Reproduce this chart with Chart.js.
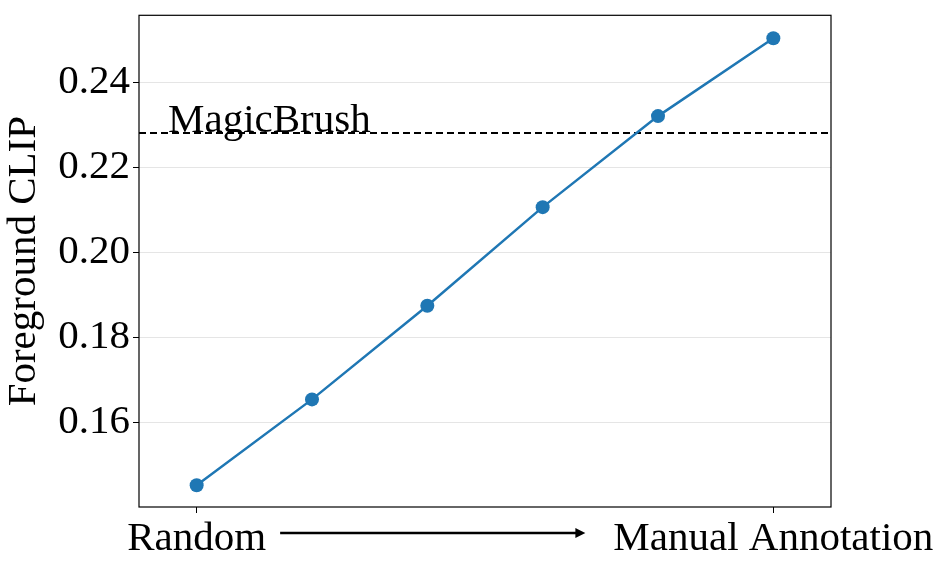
<!DOCTYPE html>
<html lang="en">
<head>
<meta charset="UTF-8">
<title>Foreground CLIP</title>
<style>
  body { margin: 0; background: #fff; }
  #wrap { width: 947px; height: 568px; }
</style>
</head>
<body>
<div id="wrap"><canvas id="myChart"></canvas></div>
<script src="https://cdn.jsdelivr.net/npm/chart.js"></script>
<script>
// data
const steps = [0, 1, 2, 3, 4, 5];
const clipScores = [0.1452, 0.1654, 0.1874, 0.2106, 0.2320, 0.2503];
const baselineName = 'MagicBrush';
const baselineScore = 0.2280;
const yTicks = [0.16, 0.18, 0.20, 0.22, 0.24];
const xTickLabels = { 0: 'Random', 5: 'Manual Annotation' };

const serif = "'Liberation Serif', 'Times New Roman', Times, serif";
const fontSize = 41;

// frame, baseline label and arrow between the x labels
const extras = {
  id: 'extras',
  afterDraw(chart) {
    const ctx = chart.ctx;
    const a = chart.chartArea;
    const xs = chart.scales.x, ys = chart.scales.y;
    ctx.save();
    ctx.strokeStyle = '#000';
    ctx.lineWidth = 1.2;
    ctx.strokeRect(a.left, a.top, a.right - a.left, a.bottom - a.top);

    ctx.font = fontSize + 'px ' + serif;
    ctx.fillStyle = '#000';
    ctx.textAlign = 'left';
    ctx.textBaseline = 'alphabetic';
    ctx.fillText(baselineName, a.left + 29, ys.getPixelForValue(baselineScore) - 1);

    const wL = ctx.measureText(xTickLabels[0]).width;
    const wR = ctx.measureText(xTickLabels[5]).width;
    const x0 = xs.getPixelForValue(0) + wL / 2 + 14;
    const x1 = xs.getPixelForValue(5) - wR / 2 - 28;
    const y = 533;
    ctx.lineWidth = 2.5;
    ctx.beginPath();
    ctx.moveTo(x0, y);
    ctx.lineTo(x1 - 8, y);
    ctx.stroke();
    ctx.beginPath();
    ctx.moveTo(x1, y);
    ctx.lineTo(x1 - 10, y - 5);
    ctx.lineTo(x1 - 10, y + 5);
    ctx.closePath();
    ctx.fill();
    ctx.restore();
  }
};

new Chart(document.getElementById('myChart'), {
  type: 'line',
  data: {
    datasets: [{
      label: 'ours',
      data: steps.map((s, i) => ({ x: s, y: clipScores[i] })),
      borderColor: '#1f77b4',
      backgroundColor: '#1f77b4',
      borderWidth: 2.5,
      pointRadius: 7,
      pointHoverRadius: 7,
      pointBorderWidth: 0
    }, {
      label: baselineName,
      data: [{ x: -0.5, y: baselineScore }, { x: 5.5, y: baselineScore }],
      borderColor: '#000',
      borderWidth: 2,
      borderDash: [7, 4],
      pointRadius: 0
    }]
  },
  options: {
    responsive: true,
    maintainAspectRatio: false,
    animation: false,
    layout: { padding: { top: 14, right: 116, left: 0, bottom: 0 } },
    plugins: { legend: { display: false }, tooltip: { enabled: false } },
    scales: {
      x: {
        type: 'linear',
        min: -0.5,
        max: 5.5,
        afterBuildTicks: (s) => { s.ticks = [{ value: 0 }, { value: 5 }]; },
        afterFit: (s) => { s.height = 61; },
        grid: { drawOnChartArea: false, color: 'rgba(0,0,0,0)', tickColor: '#000', tickLength: 6 },
        border: { display: false },
        ticks: {
          maxRotation: 0,
          autoSkip: false,
          padding: 2,
          color: '#000',
          font: { family: serif, size: fontSize },
          callback: (v) => xTickLabels[v] || ''
        }
      },
      y: {
        min: 0.1401,
        max: 0.2557,
        afterBuildTicks: (s) => { s.ticks = yTicks.map(v => ({ value: v })); },
        afterFit: (s) => { s.width = 139; },
        grid: { color: '#e5e5e5', tickColor: '#000', tickLength: 6 },
        border: { display: false },
        title: {
          display: true,
          text: 'Foreground CLIP',
          color: '#000',
          padding: 0,
          font: { family: serif, size: fontSize }
        },
        ticks: {
          padding: 3,
          color: '#000',
          font: { family: serif, size: fontSize, lineHeight: 0.6 },
          callback: (v) => v.toFixed(2)
        }
      }
    }
  },
  plugins: [extras]
});
</script>
</body>
</html>
